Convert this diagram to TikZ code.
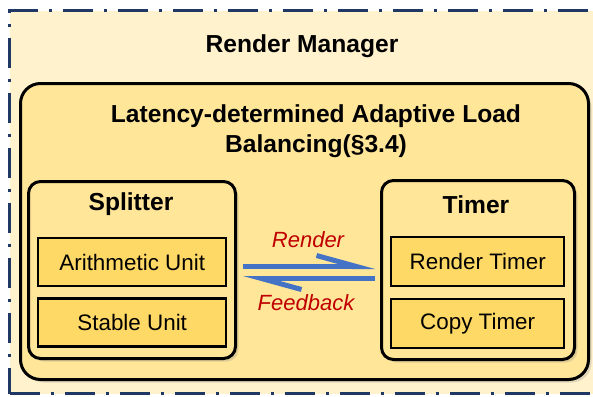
\documentclass[tikz,border=0pt]{standalone}
\usepackage{fontspec}
\setmainfont{Liberation Sans}
\usetikzlibrary{positioning,arrows.meta,shadows}
\definecolor{mgrNavy}{RGB}{31,56,100}
\definecolor{mgrCream}{RGB}{255,242,204}
\definecolor{lbGold}{RGB}{255,230,153}
\definecolor{unitGold}{RGB}{255,217,102}
\definecolor{flowBlue}{RGB}{68,114,196}
\definecolor{labelRed}{RGB}{192,0,0}
\newcommand{\headfont}{\fontsize{12.3}{15}\selectfont\bfseries}
\newcommand{\unitfont}{\fontsize{11.2}{13}\selectfont}
\newcommand{\flowfont}{\fontsize{11}{13}\selectfont\itshape}

\begin{document}
\begin{tikzpicture}[x=0.5pt, y=-0.5pt,
    mgrframe/.style={draw=mgrNavy, line width=1.5pt, fill=mgrCream,
      dash pattern=on 15pt off 5.5pt on 1.5pt off 5.5pt},
    panel/.style={draw=black, line width=1.5pt, fill=lbGold, rounded corners=10pt,
      drop shadow={shadow xshift=1.5pt, shadow yshift=-1.5pt, opacity=0.25}},
    subpanel/.style={draw=black, line width=1.5pt, fill=lbGold, rounded corners=6pt,
      drop shadow={shadow xshift=1.5pt, shadow yshift=-1.5pt, opacity=0.25}},
    unit/.style={draw=black, line width=1.2pt, fill=unitGold, font=\unitfont},
    heading/.style={font=\headfont, align=center},
    flow/.style={draw=flowBlue, line width=2.5pt,
      -{Straight Barb[left, length=20pt, width=11pt]}},
    flowlabel/.style={text=labelRed, font=\flowfont}
  ]
    \useasboundingbox (0,0) rectangle (593,396);
    \clip (0,0) rectangle (593,396);

    % outer manager frame
    \node[mgrframe, anchor=north west, minimum width=310pt, minimum height=191.5pt] (mgr) at (8,9) {};
    \node[heading] (mgrtitle) at (302,46) {Render Manager};

    % load balancing panel
    \node[panel, anchor=north west, minimum width=284pt, minimum height=148pt] (lb) at (19,82) {};
    \node[heading] (lbtitle) at (316,131) {Latency-determined Adaptive Load\\Balancing(§3.4)};

    % splitter
    \node[subpanel, anchor=north west, minimum width=103.5pt, minimum height=88.5pt] (splitter) at (27,180) {};
    \node[heading] (splittitle) at (131,204) {Splitter};
    \node[unit, anchor=north west, minimum width=94pt, minimum height=24pt] (arith) at (37,237) {Arithmetic Unit};
    \node[unit, below=5pt of arith, minimum width=94pt, minimum height=24pt] (stable) {Stable Unit};

    % timer
    \node[subpanel, anchor=north west, minimum width=96.5pt, minimum height=89.5pt] (timer) at (380,179) {};
    \node[heading] (timertitle) at (476,205) {Timer};
    \node[unit, anchor=north west, minimum width=86.5pt, minimum height=24.5pt] (rtimer) at (390,235.5) {Render Timer};
    \node[unit, below=5.5pt of rtimer, minimum width=86.5pt, minimum height=24.5pt] (ctimer) {Copy Timer};

    % render / feedback flows
    \draw[flow] ([xshift=3pt,yshift=1.75pt]splitter.east) -- ([xshift=-2.5pt,yshift=1.75pt]timer.west);
    \draw[flow] ([xshift=-2.5pt,yshift=-4.25pt]timer.west) -- ([xshift=3pt,yshift=-4.25pt]splitter.east);
    \node[flowlabel] (renderlbl) at (308,240) {Render};
    \node[flowlabel] (feedbacklbl) at (306,303) {Feedback};
  \end{tikzpicture}
\end{document}
